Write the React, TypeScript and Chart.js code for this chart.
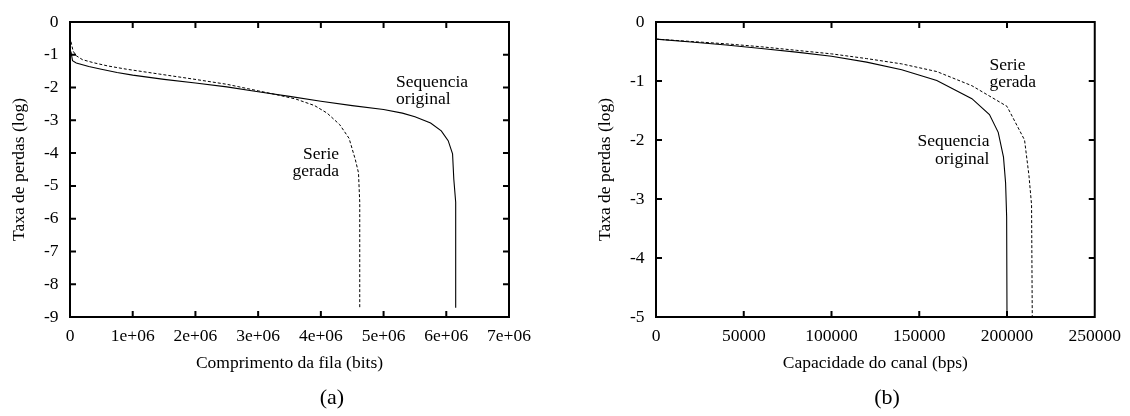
import React, { useEffect, useRef } from "react";
import { Chart, registerables } from "chart.js";

Chart.register(...registerables);

const FONT = "'Liberation Serif', 'Times New Roman', Times, serif";
const FONT_SIZE = 17.5;

// ---------- Chart (a): loss rate vs queue length ----------
const queueOriginalX = [15000, 40000, 100000, 300000, 500000, 750000, 1000000, 1500000, 2000000, 2500000, 3000000, 3500000, 4000000, 4500000, 5000000, 5300000, 5500000, 5750000, 5920000, 6030000, 6100000, 6120000, 6150000, 6150000];
const queueOriginalY = [-0.9, -1.18, -1.25, -1.36, -1.44, -1.54, -1.62, -1.75, -1.86, -1.98, -2.13, -2.27, -2.42, -2.55, -2.67, -2.78, -2.89, -3.08, -3.32, -3.62, -4.02, -4.8, -5.5, -8.72];
const queueGeneratedX = [15000, 50000, 100000, 200000, 370000, 600000, 900000, 1430000, 1960000, 2500000, 3000000, 3300000, 3600000, 3900000, 4100000, 4300000, 4450000, 4550000, 4600000, 4620000, 4620000];
const queueGeneratedY = [-0.6, -0.89, -1.03, -1.15, -1.24, -1.34, -1.44, -1.59, -1.74, -1.9, -2.1, -2.22, -2.35, -2.55, -2.78, -3.13, -3.55, -4.2, -4.6, -5.5, -8.72];
const queueXTicks = ["0", "1e+06", "2e+06", "3e+06", "4e+06", "5e+06", "6e+06", "7e+06"];
const queueYTicks = ["-9", "-8", "-7", "-6", "-5", "-4", "-3", "-2", "-1", "0"];

// ---------- Chart (b): loss rate vs channel capacity ----------
const capOriginalX = [0, 20000, 40000, 60000, 80000, 100000, 120000, 140000, 160000, 180000, 190000, 195000, 198000, 199200, 199800, 200000];
const capOriginalY = [-0.29, -0.34, -0.39, -0.45, -0.51, -0.58, -0.68, -0.81, -0.99, -1.3, -1.57, -1.87, -2.29, -2.73, -3.3, -5.0];
const capGeneratedX = [0, 20000, 40000, 60000, 80000, 100000, 120000, 140000, 160000, 180000, 200000, 210000, 212500, 214000, 214400];
const capGeneratedY = [-0.29, -0.33, -0.37, -0.42, -0.48, -0.54, -0.62, -0.71, -0.84, -1.08, -1.43, -2.0, -2.6, -3.1, -5.0];
const capXTicks = ["0", "50000", "100000", "150000", "200000", "250000"];
const capYTicks = ["-5", "-4", "-3", "-2", "-1", "0"];

const zip = (xs: number[], ys: number[]) => xs.map((x, i) => ({ x, y: ys[i] }));

type Ann = { text: string; x: number; y: number; align: CanvasTextAlign };

const annotationsA: Ann[] = [
  { text: "Sequencia", x: 5200000, y: -1.84, align: "left" },
  { text: "original", x: 5200000, y: -2.35, align: "left" },
  { text: "Serie", x: 4290000, y: -4.05, align: "right" },
  { text: "gerada", x: 4290000, y: -4.56, align: "right" },
];
const annotationsB: Ann[] = [
  { text: "Serie", x: 190000, y: -0.74, align: "left" },
  { text: "gerada", x: 190000, y: -1.03, align: "left" },
  { text: "Sequencia", x: 190000, y: -2.03, align: "right" },
  { text: "original", x: 190000, y: -2.33, align: "right" },
];

const frameTicksPlugin = {
  id: "frameTicks",
  afterDatasetsDraw(chart: any) {
    const { ctx, chartArea: a, scales } = chart;
    const xs = scales.x;
    const ys = scales.y;
    ctx.save();
    ctx.strokeStyle = "#000";
    ctx.lineWidth = 2;
    ctx.beginPath();
    for (const t of xs.ticks) {
      const px = xs.getPixelForValue(t.value);
      if (px <= a.left + 1 || px >= a.right - 1) continue;
      ctx.moveTo(px, a.bottom);
      ctx.lineTo(px, a.bottom - 6);
      ctx.moveTo(px, a.top);
      ctx.lineTo(px, a.top + 6);
    }
    for (const t of ys.ticks) {
      const py = ys.getPixelForValue(t.value);
      if (py <= a.top + 1 || py >= a.bottom - 1) continue;
      ctx.moveTo(a.left, py);
      ctx.lineTo(a.left + 6, py);
      ctx.moveTo(a.right, py);
      ctx.lineTo(a.right - 6, py);
    }
    ctx.stroke();
    ctx.strokeRect(a.left, a.top, a.right - a.left, a.bottom - a.top);
    ctx.restore();
  },
};

const annotationPlugin = {
  id: "curveLabels",
  afterDatasetsDraw(chart: any, _args: any, opts: any) {
    const items: Ann[] = (opts && opts.items) || [];
    const { ctx, scales } = chart;
    ctx.save();
    ctx.font = `${FONT_SIZE}px ${FONT}`;
    ctx.fillStyle = "#000";
    ctx.textBaseline = "middle";
    for (const it of items) {
      ctx.textAlign = it.align;
      ctx.fillText(it.text, scales.x.getPixelForValue(it.x), scales.y.getPixelForValue(it.y));
    }
    ctx.restore();
  },
};

type Spec = {
  width: number;
  height: number;
  padRight: number;
  original: { x: number; y: number }[];
  generated: { x: number; y: number }[];
  xMin: number;
  xMax: number;
  xStep: number;
  yMin: number;
  yMax: number;
  xTicks: string[];
  yTicks: string[];
  xTitle: string;
  annotations: Ann[];
};

function Plot({ spec, left }: { spec: Spec; left: number }) {
  const ref = useRef<HTMLCanvasElement | null>(null);
  useEffect(() => {
    if (!ref.current) return;
    const font = { family: FONT, size: FONT_SIZE };
    const chart = new Chart(ref.current, {
      type: "line",
      data: {
        datasets: [
          {
            label: "Sequencia original",
            data: spec.original,
            borderColor: "#000",
            borderWidth: 1.1,
            pointRadius: 0,
            tension: 0,
            fill: false,
          },
          {
            label: "Serie gerada",
            data: spec.generated,
            borderColor: "#000",
            borderWidth: 1,
            borderDash: [3, 2],
            pointRadius: 0,
            tension: 0,
            fill: false,
          },
        ],
      },
      options: {
        animation: false,
        responsive: false,
        devicePixelRatio: 1,
        events: [],
        layout: { padding: { left: 0, top: 15, right: spec.padRight, bottom: 0 } },
        plugins: {
          legend: { display: false },
          tooltip: { enabled: false },
          title: { display: false },
          curveLabels: { items: spec.annotations },
        } as any,
        scales: {
          x: {
            type: "linear",
            position: "bottom",
            min: spec.xMin,
            max: spec.xMax,
            grid: { display: false, drawTicks: false, tickLength: 0 },
            border: { display: false },
            ticks: {
              stepSize: spec.xStep,
              autoSkip: false,
              maxRotation: 0,
              padding: 9,
              color: "#000",
              font,
              callback: (_v: any, i: number) => spec.xTicks[i],
            },
            title: {
              display: true,
              text: spec.xTitle,
              color: "#000",
              font,
              padding: { top: 0, bottom: 42.5 },
            },
            afterFit: (s: any) => {
              s.height = 99;
            },
          },
          y: {
            type: "linear",
            position: "left",
            min: spec.yMin,
            max: spec.yMax,
            grid: { display: false, drawTicks: false, tickLength: 0 },
            border: { display: false },
            ticks: {
              stepSize: 1,
              autoSkip: false,
              padding: 11.5,
              color: "#000",
              font,
              callback: (_v: any, i: number) => spec.yTicks[i],
            },
            title: {
              display: true,
              text: "Taxa de perdas (log)",
              color: "#000",
              font,
              padding: { top: 8.5, bottom: 0 },
            },
            afterFit: (s: any) => {
              s.width = 70;
            },
          },
        },
      } as any,
      plugins: [frameTicksPlugin, annotationPlugin],
    });
    return () => chart.destroy();
  }, [spec]);
  return (
    <canvas
      ref={ref}
      width={spec.width}
      height={spec.height}
      style={{ position: "absolute", left, top: 0, width: spec.width, height: spec.height }}
    />
  );
}

const specA: Spec = {
  width: 565,
  height: 416,
  padRight: 56,
  original: zip(queueOriginalX, queueOriginalY),
  generated: zip(queueGeneratedX, queueGeneratedY),
  xMin: 0,
  xMax: 7000000,
  xStep: 1000000,
  yMin: -9,
  yMax: 0,
  xTicks: queueXTicks,
  yTicks: queueYTicks,
  xTitle: "Comprimento da fila (bits)",
  annotations: annotationsA,
};

const specB: Spec = {
  width: 544,
  height: 416,
  padRight: 35,
  original: zip(capOriginalX, capOriginalY),
  generated: zip(capGeneratedX, capGeneratedY),
  xMin: 0,
  xMax: 250000,
  xStep: 50000,
  yMin: -5,
  yMax: 0,
  xTicks: capXTicks,
  yTicks: capYTicks,
  xTitle: "Capacidade do canal (bps)",
  annotations: annotationsB,
};

const captionStyle = (cx: number): React.CSSProperties => ({
  position: "absolute",
  left: cx - 40,
  width: 80,
  top: 385,
  height: 24,
  lineHeight: "24px",
  textAlign: "center",
  fontFamily: FONT,
  fontSize: 22,
  color: "#000",
});

export default function App() {
  return (
    <div
      style={{
        position: "fixed",
        left: 0,
        top: 0,
        width: 1130,
        height: 416,
        background: "#fff",
        overflow: "hidden",
      }}
    >
      <Plot spec={specA} left={0} />
      <Plot spec={specB} left={586} />
      <div style={captionStyle(332)}>(a)</div>
      <div style={captionStyle(887)}>(b)</div>
    </div>
  );
}
